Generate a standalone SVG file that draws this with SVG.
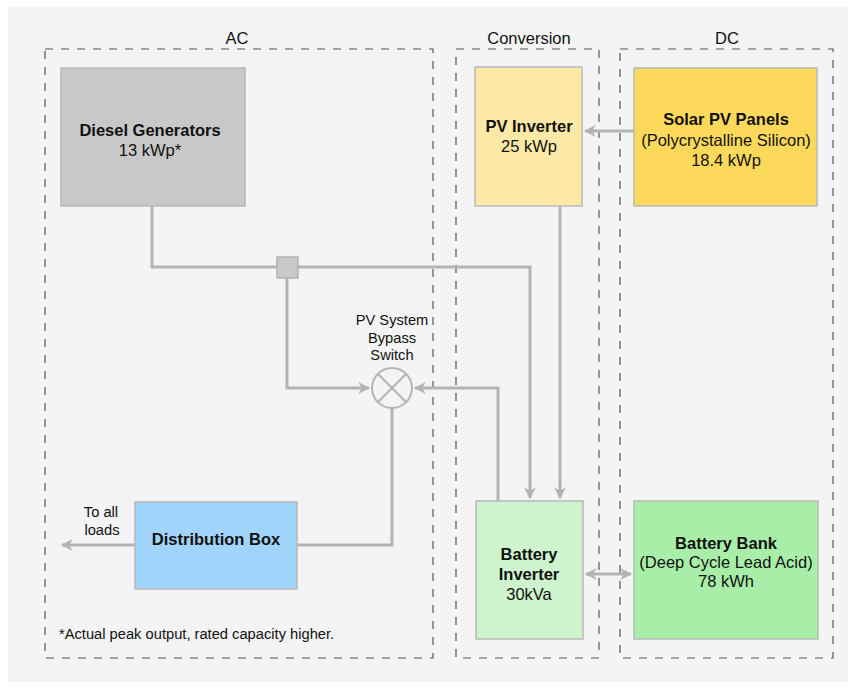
<svg xmlns="http://www.w3.org/2000/svg" width="856" height="689" viewBox="0 0 856 689">
<style>
text{font-family:"Liberation Sans",Arial,sans-serif;font-size:16.5px;fill:#111;text-anchor:middle}
.b{font-weight:bold}
.s{font-size:14.7px}
.grp{fill:none;stroke:#555;stroke-width:1.2;stroke-dasharray:8 8}
.node{stroke:#b8b8b8;stroke-width:1.5}
.c{fill:none;stroke:#b3b3b3;stroke-width:3}
</style>
<defs>
<marker id="ah" viewBox="0 0 10 10" refX="9" refY="5" markerWidth="4" markerHeight="4" orient="auto-start-reverse" markerUnits="strokeWidth">
<path d="M0,0 L10,5 L0,10 L3,5 Z" fill="#b3b3b3"/>
</marker>
</defs>
<rect x="8" y="7" width="840" height="675" fill="#f4f4f4"/>
<g id="groups">
<rect class="grp" x="45" y="49" width="388" height="609"/>
<text x="237" y="44">AC</text>
<rect class="grp" x="456" y="49" width="143" height="609"/>
<text x="529" y="44">Conversion</text>
<rect class="grp" x="620" y="49" width="213" height="609"/>
<text x="727" y="44">DC</text>
</g>
<g id="connectors">
<polyline class="c" points="152,206 152,267 530,267 530,498" marker-end="url(#ah)"/>
<line class="c" x1="560" y1="206" x2="560" y2="498" marker-end="url(#ah)"/>
<line class="c" x1="634" y1="131" x2="585" y2="131" marker-end="url(#ah)"/>
<polyline class="c" points="287,267 287,388 369,388" marker-end="url(#ah)"/>
<polyline class="c" points="498,501 498,388 415,388" marker-end="url(#ah)"/>
<polyline class="c" points="392,408 392,545 297,545"/>
<line class="c" x1="135" y1="545" x2="62" y2="545" marker-end="url(#ah)"/>
<line class="c" x1="586" y1="574" x2="631" y2="574" marker-start="url(#ah)" marker-end="url(#ah)"/>
</g>
<g id="diesel">
<rect class="node" x="61" y="68" width="184" height="138" fill="#c8c8c8"/>
<text class="b" x="150" y="136">Diesel Generators</text>
<text x="150" y="156">13 kWp*</text>
</g>
<g id="pv-inverter">
<rect class="node" x="475" y="67" width="107" height="139" fill="#fde9a7"/>
<text class="b" x="529" y="132">PV Inverter</text>
<text x="529" y="152">25 kWp</text>
</g>
<g id="solar">
<rect class="node" x="634" y="68" width="183" height="138" fill="#fdd95b"/>
<text class="b" x="726" y="125">Solar PV Panels</text>
<text x="726" y="146">(Polycrystalline Silicon)</text>
<text x="726" y="166">18.4 kWp</text>
</g>
<g id="junction">
<rect x="277" y="257" width="21" height="21" fill="#c8c8c8" stroke="#b3b3b3" stroke-width="1.5"/>
</g>
<g id="bypass-switch">
<circle cx="392" cy="388" r="20" fill="#f4f4f4" stroke="#b3b3b3" stroke-width="2"/>
<line x1="378" y1="374" x2="406" y2="402" stroke="#b3b3b3" stroke-width="2"/>
<line x1="406" y1="374" x2="378" y2="402" stroke="#b3b3b3" stroke-width="2"/>
<text class="s" x="392" y="325">PV System</text>
<text class="s" x="392" y="343">Bypass</text>
<text class="s" x="392" y="360">Switch</text>
</g>
<g id="distribution">
<rect class="node" x="135" y="502" width="162" height="87" fill="#a0d4fb"/>
<text class="b" x="216" y="545">Distribution Box</text>
</g>
<g id="loads-label">
<text class="s" x="101" y="517">To all</text>
<text class="s" x="102" y="535">loads</text>
</g>
<g id="battery-inverter">
<rect class="node" x="476" y="501" width="107" height="138" fill="#cdf4cd"/>
<text class="b" x="529" y="560">Battery</text>
<text class="b" x="529" y="580">Inverter</text>
<text x="529" y="600">30kVa</text>
</g>
<g id="battery-bank">
<rect class="node" x="634" y="501" width="184" height="138" fill="#a8eea8"/>
<text class="b" x="726" y="549">Battery Bank</text>
<text x="726" y="568">(Deep Cycle Lead Acid)</text>
<text x="726" y="587">78 kWh</text>
</g>
<text class="s" x="59" y="639" style="text-anchor:start">*Actual peak output, rated capacity higher.</text>
</svg>
